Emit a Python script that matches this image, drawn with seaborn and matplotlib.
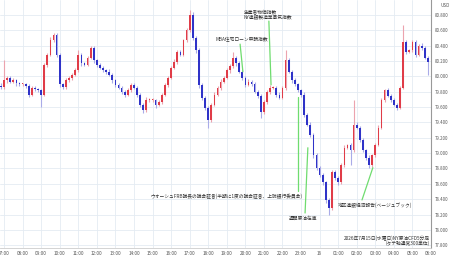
import matplotlib
matplotlib.use("Agg")
import pandas as pd
import matplotlib.pyplot as plt
import matplotlib.dates as mdates
from matplotlib.ticker import FuncFormatter
import seaborn as sns

# NY crude CFD, 10-minute closes from 06:50 (15th) to 05:50 (16th)
first_open = 79.88
closes = [
    79.86,
    79.95, 79.98, 79.93, 79.95, 79.91, 79.90,       # 07
    79.90, 79.875, 79.76, 79.85, 79.835, 79.82,     # 08
    79.76, 80.15, 80.28, 80.47, 80.54, 80.28,       # 09
    79.90, 79.86, 79.95, 79.98, 80.02, 80.08,       # 10
    80.28, 80.17, 80.15, 80.24, 80.37, 80.21,       # 11
    80.15, 80.11, 80.08, 80.06, 80.02, 79.95,       # 12
    79.89, 79.85, 79.80, 79.76, 79.82, 79.89,       # 13
    79.85, 79.76, 79.63, 79.56, 79.69, 79.69,       # 14
    79.69, 79.63, 79.665, 79.76, 79.89, 79.98,      # 15
    80.11, 80.19, 80.32, 80.28, 80.47, 80.60,       # 16
    80.80, 80.50, 80.34, 79.89, 79.72, 79.59,       # 17
    79.43, 79.63, 79.76, 79.85, 79.93, 79.98,       # 18
    80.08, 80.135, 80.24, 80.17, 80.06, 79.98,      # 19
    79.89, 79.93, 79.90, 79.80, 79.745, 79.535,     # 20
    79.665, 79.80, 79.85, 79.85, 79.76, 79.72,      # 21
    79.85, 80.21, 80.06, 79.95, 79.90, 79.82,       # 22
    79.76, 79.50, 79.37, 79.24, 78.975, 78.81,      # 23
    78.715, 78.62, 78.39, 78.285, 78.755, 78.675,   # 00
    78.62, 78.85, 79.07, 79.10, 79.04, 79.37,       # 01
    79.33, 79.17, 79.04, 78.94, 78.85, 78.975,      # 02
    79.11, 79.33, 79.69, 79.82, 79.745, 79.69,      # 03
    79.63, 79.59, 79.85, 80.45, 80.32, 80.34,       # 04
    80.45, 80.28, 80.40, 80.37, 80.24, 80.19,       # 05
]
upper_wick = [
    0.03,
    0.26, 0.03, 0.02, 0.03, 0.02, 0.02,
    0.02, 0.02, 0.03, 0.02, 0.02, 0.02,
    0.02, 0.03, 0.02, 0.04, 0.03, 0.02,
    0.02, 0.02, 0.03, 0.02, 0.02, 0.03,
    0.06, 0.03, 0.02, 0.03, 0.03, 0.02,
    0.02, 0.03, 0.02, 0.02, 0.03, 0.02,
    0.02, 0.02, 0.03, 0.02, 0.03, 0.02,
    0.03, 0.02, 0.02, 0.02, 0.04, 0.03,
    0.03, 0.02, 0.03, 0.02, 0.03, 0.02,
    0.02, 0.03, 0.02, 0.03, 0.02, 0.03,
    0.07, 0.04, 0.03, 0.03, 0.02, 0.03,
    0.03, 0.02, 0.03, 0.02, 0.03, 0.02,
    0.03, 0.02, 0.08, 0.02, 0.03, 0.02,
    0.02, 0.03, 0.02, 0.03, 0.02, 0.03,
    0.03, 0.02, 0.04, 0.03, 0.02, 0.03,
    0.03, 0.13, 0.03, 0.02, 0.03, 0.02,
    0.02, 0.03, 0.02, 0.03, 0.02, 0.03,
    0.02, 0.03, 0.02, 0.03, 0.02, 0.03,
    0.03, 0.02, 0.03, 0.02, 0.03, 0.32,
    0.03, 0.02, 0.03, 0.02, 0.03, 0.02,
    0.02, 0.03, 0.03, 0.02, 0.03, 0.02,
    0.03, 0.02, 0.03, 0.22, 0.03, 0.02,
    0.02, 0.03, 0.02, 0.03, 0.02, 0.03,
]
lower_wick = [
    0.02,
    0.02, 0.03, 0.02, 0.02, 0.03, 0.02,
    0.02, 0.03, 0.03, 0.02, 0.02, 0.03,
    0.16, 0.02, 0.03, 0.02, 0.02, 0.03,
    0.04, 0.03, 0.02, 0.02, 0.03, 0.02,
    0.02, 0.03, 0.02, 0.02, 0.02, 0.03,
    0.03, 0.02, 0.02, 0.03, 0.02, 0.03,
    0.03, 0.02, 0.03, 0.03, 0.02, 0.02,
    0.02, 0.03, 0.03, 0.04, 0.02, 0.03,
    0.02, 0.04, 0.02, 0.02, 0.02, 0.03,
    0.02, 0.02, 0.03, 0.02, 0.02, 0.02,
    0.02, 0.03, 0.03, 0.04, 0.03, 0.03,
    0.10, 0.03, 0.02, 0.02, 0.03, 0.02,
    0.02, 0.03, 0.02, 0.03, 0.02, 0.03,
    0.03, 0.02, 0.03, 0.02, 0.03, 0.075,
    0.03, 0.02, 0.03, 0.02, 0.03, 0.02,
    0.02, 0.03, 0.02, 0.03, 0.02, 0.03,
    0.03, 0.03, 0.02, 0.03, 0.04, 0.03,
    0.03, 0.03, 0.04, 0.09, 0.02, 0.03,
    0.03, 0.02, 0.03, 0.02, 0.19, 0.03,
    0.02, 0.03, 0.02, 0.03, 0.04, 0.03,
    0.03, 0.02, 0.02, 0.03, 0.02, 0.03,
    0.02, 0.03, 0.02, 0.02, 0.03, 0.02,
    0.02, 0.03, 0.02, 0.03, 0.02, 0.17,
]

price_ticks = [77.8, 78.0, 78.2, 78.4, 78.6, 78.8, 79.0, 79.2,
               79.4, 79.6, 79.8, 80.0, 80.2, 80.4, 80.6, 80.8]

# event lines: (start time, start price, end time, end price)
event_lines = [
    ("2026-07-15 21:16", 80.72, "2026-07-15 21:23", 79.89),
    ("2026-07-15 19:43", 80.42, "2026-07-15 19:52", 80.06),
    ("2026-07-15 22:50", 79.73, "2026-07-15 22:50", 78.51),
    ("2026-07-15 23:22", 79.07, "2026-07-15 23:13", 78.22),
    ("2026-07-16 02:52", 78.81, "2026-07-16 02:17", 78.39),
]
# event labels: (text, time, price, horizontal alignment)
event_labels = [
    ("生産者物価指数", "2026-07-15 19:55", 80.83, "left"),
    ("NY連銀製造業景気指数", "2026-07-15 19:55", 80.76, "left"),
    ("MBA住宅ローン申請指数", "2026-07-15 18:22", 80.487, "left"),
    ("ウォーシュFRB議長の議会証言(半期に1度の議会証言、上院銀行委員会)", "2026-07-15 14:52", 78.44, "left"),
    ("週間原油在庫", "2026-07-15 23:06", 78.155, "center"),
    ("地区連銀経済報告(ベージュブック)", "2026-07-16 00:59", 78.32, "left"),
    ("2026年7月15日(水曜日)NY原油CFD5分足", "2026-07-16 05:56", 77.894, "right"),
    ("(タテ軸通常300単位)", "2026-07-16 05:56", 77.825, "right"),
]


def hour_label(v, pos):
    t = mdates.num2date(v)
    if t.hour == 0:
        return str(t.day)
    return t.strftime("%H:%M")


def main():
    sns.set_theme(style="whitegrid")
    plt.rcParams['font.family'] = ['Noto Sans CJK JP', 'DejaVu Sans']

    times = pd.date_range("2026-07-15 06:50", periods=len(closes), freq="10min")
    df = pd.DataFrame({"time": times, "close": closes,
                       "up": upper_wick, "dn": lower_wick})
    df["open"] = df["close"].shift(1).fillna(first_open)
    top = df[["open", "close"]].max(axis=1)
    bot = df[["open", "close"]].min(axis=1)
    df["high"] = top + df["up"]
    df["low"] = bot - df["dn"]
    rising = df["close"] >= df["open"]

    body_col = ['#e03c48' if r else '#2f33c8' for r in rising]
    wick_col = ['#eca3ae' if r else '#a9abe8' for r in rising]

    fig = plt.figure(figsize=(4.5, 2.58), dpi=100)
    ax = fig.add_axes([0, 10 / 258, 431 / 450, 248 / 258])

    ax.vlines(df["time"], df["low"], df["high"], colors=wick_col, lw=0.8, zorder=2)
    ax.bar(df["time"], (top - bot).clip(lower=0.01), bottom=bot,
           width=0.55 / 144, color=body_col, linewidth=0, zorder=3)

    # news markers
    for t1, p1, t2, p2 in event_lines:
        ax.plot([pd.Timestamp(t1), pd.Timestamp(t2)], [p1, p2],
                color='#6fdc6f', lw=0.9, zorder=4)
    for txt, t, p, ha in event_labels:
        ax.text(pd.Timestamp(t), p, txt, ha=ha, va='center',
                fontsize=3.4, color='#333333', zorder=5)

    ax.set_xlim(pd.Timestamp("2026-07-15 06:47"), pd.Timestamp("2026-07-16 06:00"))
    ax.set_ylim(77.764, 80.995)

    ax.xaxis.set_major_locator(mdates.HourLocator())
    ax.xaxis.set_major_formatter(FuncFormatter(hour_label))
    ax.yaxis.tick_right()
    ax.set_yticks(price_ticks)
    ax.set_yticklabels([f"{v:.3f}" for v in price_ticks])
    ax.tick_params(axis='y', labelsize=3.1, length=0, pad=2.5, colors='#555555')
    ax.tick_params(axis='x', labelsize=3.4, length=0, pad=2, colors='#555555')
    ax.grid(color='#e4ebf2', lw=0.6)

    for side in ['left', 'top']:
        ax.spines[side].set_visible(False)
    ax.spines['right'].set_color('#999999')
    ax.spines['right'].set_linewidth(0.8)
    ax.spines['bottom'].set_color('#cccccc')
    ax.spines['bottom'].set_linewidth(0.6)

    ax.text(1.021, 0.978, "USD", transform=ax.transAxes, fontsize=3.3,
            color='#555555', va='center', ha='left')

    fig.savefig("out.png", dpi=100)


if __name__ == '__main__':
    main()
